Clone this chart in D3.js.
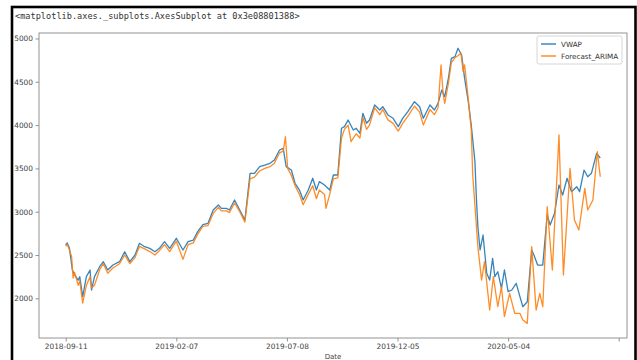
<!DOCTYPE html>
<html><head><meta charset="utf-8">
<script src="https://cdn.jsdelivr.net/npm/d3@7"></script>
<style>html,body{margin:0;padding:0;background:#fff;overflow:hidden}</style>
</head><body><svg id="c" width="637" height="360"></svg>
<script>
const titleText = "<matplotlib.axes._subplots.AxesSubplot at 0x3e08801388>";
const xTickPos = [0, 150, 300, 450, 600, 750];
const xTickLabels = ["2018-09-11", "2019-02-07", "2019-07-08", "2019-12-05", "2020-05-04", ""];
const yTicks = [2000, 2500, 3000, 3500, 4000, 4500, 5000];
const seriesNames = ["VWAP", "Forecast_ARIMA"];

const vwapDays = [0,2,5,9,12,17,19,23,28,33,35,39,46,51,57,64,73,80,87,94,100,107,114,121,127,134,141,150,159,166,173,179,186,193,200,207,211,218,222,229,236,243,250,256,263,270,277,283,290,295,299,306,311,317,322,329,335,340,344,351,358,363,369,374,378,383,390,394,399,403,408,412,419,426,430,437,444,451,457,464,473,480,485,494,500,505,510,514,519,523,528,532,537,541,546,550,555,557,559,562,566,571,575,579,582,586,591,595,600,605,611,616,620,626,632,635,640,647,653,657,663,669,674,680,686,693,697,703,708,713,720,725];
const vwapVals = [2615,2640,2580,2327,2270,2210,2250,2020,2250,2327,2096,2250,2365,2423,2327,2385,2423,2538,2423,2500,2635,2596,2577,2538,2577,2654,2577,2693,2558,2654,2673,2770,2850,2866,3020,3077,3039,3039,3020,3135,3020,2904,3443,3443,3520,3539,3559,3597,3712,3732,3520,3481,3328,3250,3135,3250,3386,3250,3347,3308,3250,3424,3424,3963,3982,4059,3943,3963,3905,4136,4021,4059,4232,4174,4212,4117,4078,3982,4078,4155,4270,4212,4078,4232,4174,4251,4405,4328,4540,4771,4790,4887,4809,4540,4270,4001,3578,3150,2827,2558,2731,2289,2211,2462,2250,2307,2115,2327,2077,2096,2173,2019,1903,1961,2558,2500,2384,2384,2962,2846,2981,3308,3193,3386,3231,3289,3231,3481,3404,3443,3674,3620];

const arimaDays = [0,2,5,8,10,12,17,19,23,28,33,35,39,46,51,57,64,73,80,87,94,100,107,114,121,127,134,141,150,159,166,173,179,186,193,200,207,211,218,222,229,236,243,250,256,263,270,277,283,290,295,298,301,306,311,317,322,329,335,340,344,351,353,358,363,369,374,378,383,387,390,394,399,403,408,412,419,426,430,437,444,451,457,464,473,480,485,494,500,505,509,512,514,519,523,528,532,536,539,541,546,550,552,559,564,568,575,580,586,591,595,602,609,616,620,626,632,638,643,647,653,660,669,675,684,690,696,704,708,715,721,725];
const arimaVals = [2600,2625,2560,2480,2234,2300,2150,2200,1945,2150,2250,2120,2150,2330,2400,2290,2350,2400,2500,2400,2470,2600,2570,2540,2500,2550,2620,2540,2660,2450,2620,2640,2740,2830,2840,2980,3050,3010,3010,2990,3100,3000,2880,3380,3400,3470,3500,3520,3560,3680,3700,3866,3500,3420,3300,3200,3080,3200,3300,3150,3250,3200,3039,3200,3380,3390,3850,3950,4000,3808,3850,3900,3850,4090,3950,4000,4200,4120,4180,4060,4020,3930,4020,4100,4220,4150,4000,4180,4120,4200,4694,4350,4250,4480,4720,4780,4800,4830,4620,4694,4300,3943,3424,2596,2211,2423,1865,2250,1903,2134,1788,2058,1827,1827,1750,1711,2596,1865,2058,1903,3058,2327,3886,2269,3501,2904,2789,3270,3020,3135,3693,3404];

const colors = ["#1f77b4", "#ff7f0e"];
const svg = d3.select("#c");
const M = {left: 39, right: 627, top: 33, bottom: 338};
const x = d3.scaleLinear().domain([-36.25, 761.25]).range([M.left, M.right]);
const y = d3.scaleLinear().domain([1542, 5063]).range([M.bottom, M.top]);

// outer black frame
svg.append("rect").attr("x", 12).attr("y", 7).attr("width", 623.5).attr("height", 400)
  .attr("fill", "none").attr("stroke", "#000").attr("stroke-width", 2.6);

svg.append("text").attr("x", 15).attr("y", 18.5)
  .attr("font-family", "DejaVu Sans Mono, monospace").attr("font-size", 8.6)
  .attr("fill", "#333").text(titleText);

const font = "DejaVu Sans, sans-serif";
const xAxis = d3.axisBottom(x).tickValues(xTickPos).tickSize(3.5).tickPadding(2.5)
  .tickFormat((d, i) => xTickLabels[i]);
const yAxis = d3.axisLeft(y).tickValues(yTicks).tickSize(3.5).tickPadding(2.5)
  .tickFormat(d3.format("d"));

const gx = svg.append("g").attr("transform", `translate(0,${M.bottom})`).call(xAxis);
const gy = svg.append("g").attr("transform", `translate(${M.left},0)`).call(yAxis);
[gx, gy].forEach(g => {
  g.select(".domain").remove();
  g.selectAll(".tick line").attr("stroke", "#777").attr("stroke-width", 0.8);
  g.selectAll(".tick text").attr("font-family", font).attr("font-size", 7.4).attr("fill", "#444");
});

// axes frame
svg.append("rect").attr("x", M.left).attr("y", M.top)
  .attr("width", M.right - M.left).attr("height", M.bottom - M.top)
  .attr("fill", "none").attr("stroke", "#888").attr("stroke-width", 0.9);

svg.append("text").attr("x", (M.left + M.right) / 2).attr("y", 359)
  .attr("text-anchor", "middle").attr("font-family", font).attr("font-size", 7)
  .attr("fill", "#444").text("Date");

const line = d3.line().x(d => x(d[0])).y(d => y(d[1]));
const series = [d3.zip(vwapDays, vwapVals), d3.zip(arimaDays, arimaVals)];
svg.append("clipPath").attr("id", "pc").append("rect")
  .attr("x", M.left).attr("y", M.top).attr("width", M.right - M.left).attr("height", M.bottom - M.top);
series.forEach((s, i) => {
  svg.append("path").datum(s).attr("d", line).attr("fill", "none")
    .attr("stroke", colors[i]).attr("stroke-width", 1.3).attr("stroke-linejoin", "round")
    .attr("stroke-opacity", 0.9).attr("clip-path", "url(#pc)");
});

// legend
const lg = svg.append("g");
lg.append("rect").attr("x", 537).attr("y", 36).attr("width", 85).attr("height", 28)
  .attr("rx", 2).attr("fill", "#fff").attr("fill-opacity", 0.85)
  .attr("stroke", "#ccc").attr("stroke-width", 0.8);
seriesNames.forEach((n, i) => {
  const yy = 44 + i * 12;
  lg.append("line").attr("x1", 541).attr("x2", 556).attr("y1", yy).attr("y2", yy)
    .attr("stroke", colors[i]).attr("stroke-width", 1.3);
  lg.append("text").attr("x", 561).attr("y", yy + 2.6).attr("font-family", font)
    .attr("font-size", 7.2).attr("fill", "#333").text(n);
});
</script></body></html>
